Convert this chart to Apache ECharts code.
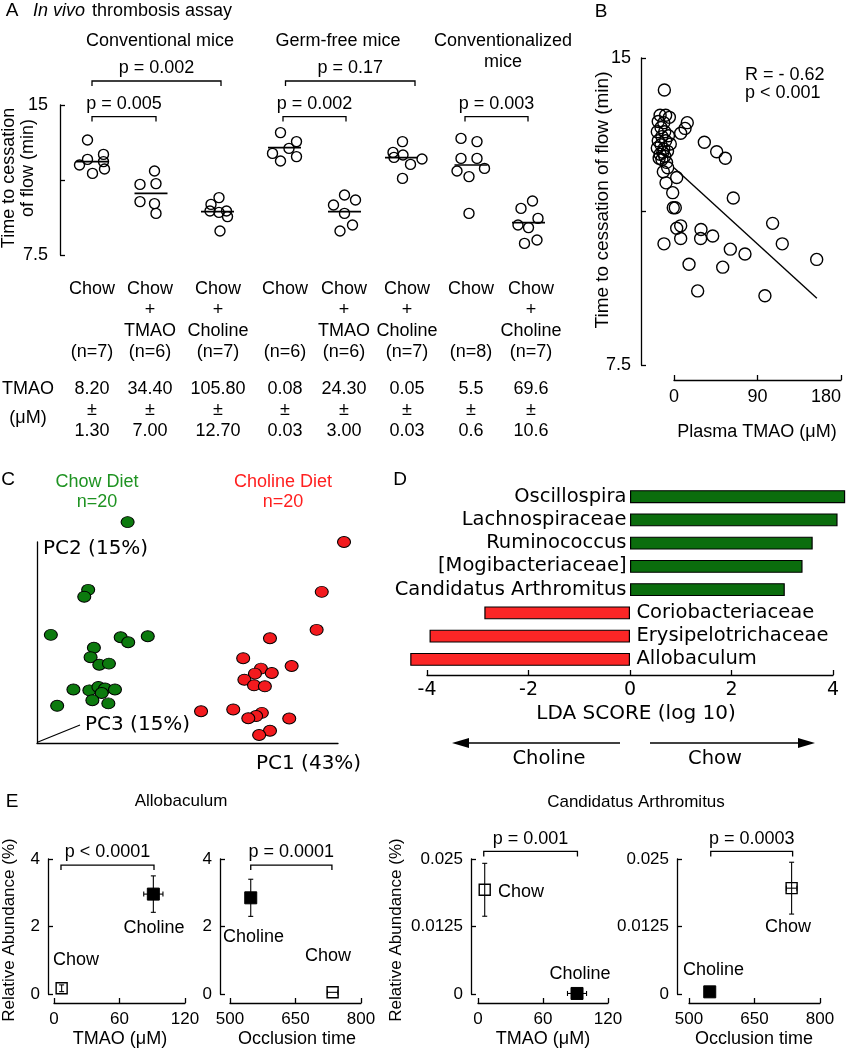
<!DOCTYPE html>
<html><head><meta charset="utf-8">
<script src="https://cdn.jsdelivr.net/npm/echarts@6/dist/echarts.min.js"></script>
<style>html,body{margin:0;padding:0;background:#fff}#c{width:847px;height:1050px}</style>
</head><body><div id="c"></div>
<script>
// ================= DATA =================
// Panel A - in vivo thrombosis assay
const mouseTypes = ['Conventional mice', 'Germ-free mice', 'Conventionalized', 'mice'];
const groupLabels = [['Chow'], ['Chow', '+', 'TMAO'], ['Chow', '+', 'Choline'], ['Chow'], ['Chow', '+', 'TMAO'], ['Chow', '+', 'Choline'], ['Chow'], ['Chow', '+', 'Choline']];
const groupN = ['(n=7)', '(n=6)', '(n=7)', '(n=6)', '(n=6)', '(n=7)', '(n=8)', '(n=7)'];
const tmaoMean = ['8.20', '34.40', '105.80', '0.08', '24.30', '0.05', '5.5', '69.6'];
const tmaoSD = ['1.30', '7.00', '12.70', '0.03', '3.00', '0.03', '0.6', '10.6'];
const groupPos = [0.65, 1.82, 3.15, 4.49, 5.69, 6.83, 8.22, 9.37];
const occTimes = [
  [13.25, 12.28, 12.53, 12.0, 12.17, 11.58, 11.8],
  [11.7, 11.03, 11.07, 10.17, 10.07, 9.58],
  [10.37, 10.03, 9.7, 9.63, 9.7, 9.42, 8.7],
  [13.62, 13.17, 12.83, 12.58, 12.42, 12.2],
  [10.5, 10.25, 10.0, 9.58, 9.0, 8.7],
  [13.17, 12.63, 12.5, 12.38, 12.3, 12.03, 11.33],
  [13.33, 13.17, 12.33, 12.33, 11.7, 11.83, 11.42, 9.58],
  [10.2, 9.83, 9.33, 9.0, 8.87, 8.25, 8.08]
];
const occJitter = [
  [-0.10, -0.10, 0.22, -0.26, 0.22, 0.0, 0.24],
  [0.07, -0.22, 0.10, -0.22, 0.07, 0.10],
  [0.03, -0.13, -0.15, 0.03, 0.18, 0.20, 0.05],
  [-0.08, 0.24, 0.09, -0.24, 0.24, -0.08],
  [0.0, 0.22, -0.22, 0.0, 0.16, -0.09],
  [0.02, -0.17, 0.03, -0.15, 0.41, 0.18, 0.02],
  [-0.20, 0.12, -0.20, 0.12, -0.28, 0.27, -0.04, -0.04],
  [0.08, -0.15, 0.19, -0.21, 0.0, 0.17, -0.08]
];
const occMedian = [12.17, 10.58, 9.67, 12.87, 9.67, 12.37, 12.0, 9.12];
const occBrackets = [[0.64, 1.92, 14.42], [0.64, 3.22, 16.2], [4.46, 5.72, 14.42], [4.51, 7.10, 16.2], [8.10, 9.36, 14.42]];
const occPvals = ['p = 0.005', 'p = 0.002', 'p = 0.002', 'p = 0.17', 'p = 0.003'];

// Panel B - correlation
const plasmaTMAO = [32.7, 46, 55.3, 63.9, 106.3, 116.7, 153.8, 98, 76.5, 60.7, 52.5, 25.5, 16.2, 41.7, 29.1, 28.7, 7.2, 2.9, 7.2, -10.8,
  -0.8, 1.4, -1.4, -8.6, 2.9, -6.8, -11.5, 7.2, 11.9, 14.3, -10.4,
  -15, -9, -5, -17, -11, -14, -18, -10, -13, -17, -9, -14, -18, -11, -7, -15, -10, -13, -6, -16, -12, -4, -8];
const cessationTime = [12.94, 12.71, 12.55, 11.58, 10.96, 10.46, 10.08, 9.19, 10.21, 10.33, 9.89, 9.31, 9.96, 10.65, 10.81, 10.59, 10.9, 10.84, 10.59, 10.46,
  11.34, 11.34, 11.71, 11.95, 12.08, 12.32, 12.22, 13.16, 13.28, 13.42, 14.22,
  13.6, 13.6, 13.55, 13.45, 13.42, 13.3, 13.2, 13.2, 13.08, 12.98, 12.98, 12.88, 12.8, 12.78, 12.72, 12.65, 12.6, 12.52, 13.1, 12.55, 12.7, 12.9, 12.45];
const fitLine = [[0, 12.32], [154, 9.13]];
const corrText = ['R = - 0.62', 'p < 0.001'];

// Panel C - PCoA
const pcaChow = [[30.1, 109.9], [17.0, 76.2], [15.7, 72.8], [4.6, 53.8], [27.8, 52.6], [30.3, 50.1], [36.8, 53.1], [18.9, 47.4], [17.8, 42.7], [20.7, 38.9],
  [23.9, 39.5], [12.1, 26.6], [17.4, 26.2], [20.4, 27.9], [22.6, 27.1], [25.9, 26.6], [21.5, 24.9], [18.4, 21.3], [23.7, 19.7], [6.7, 18.5]];
const pcaCholine = [[102.0, 100.0], [94.6, 75.2], [92.9, 56.3], [77.4, 52.1], [68.5, 42.2], [84.6, 38.3], [74.4, 37.0], [72.4, 34.5], [78.0, 34.8], [68.9, 31.5],
  [72.1, 28.7], [75.7, 28.2], [54.5, 15.8], [65.2, 16.7], [74.7, 15.0], [72.8, 13.4], [70.2, 12.3], [83.8, 12.2], [77.4, 6.1], [73.8, 4.0]];

// Panel D - LEfSe
const ldaTaxa = ['Oscillospira', 'Lachnospiraceae', 'Ruminococcus', '[Mogibacteriaceae]', 'Candidatus Arthromitus', 'Coriobacteriaceae', 'Erysipelotrichaceae', 'Allobaculum'];
const ldaScore = [4.24, 4.09, 3.6, 3.4, 3.05, -2.87, -3.95, -4.33];

// Panel E - [x, y, xErr, yErr] for Chow (open) and Choline (filled)
const alloTMAO = [[7.0, 0.17, 0, 0.1], [91, 2.96, 8.8, 0.54]];
const alloOcc = [[735, 0.05, 12, 0], [547.5, 2.85, 0, 0.55]];
const arthTMAO = [[6.2, 0.0193, 0, 0.0049], [91.4, 0.0001, 8.8, 0]];
const arthOcc = [[735, 0.0196, 12, 0.0048], [547.5, 0.0004, 0, 0]];
const eBrackets = [[[6.4, 91.6, 3.82]], [[547.5, 733.4, 3.82]], [[5.3, 91.8, 0.0264]], [[549.8, 737.3, 0.0264]]];
const ePvals = [['p < 0.0001'], ['p = 0.0001'], ['p = 0.001'], ['p = 0.0003']];

// ================= RENDER =================
const F = '"Liberation Sans", Arial, sans-serif';
const FD = '"DejaVu Sans", sans-serif';
const GREEN_T = '#1f9322', RED_T = '#ff1f1f';

function T(x, y, text, o) {
  o = o || {};
  return { type: 'text', x: x, y: y, rotation: o.rot || 0, z: 100, silent: true,
    style: { text: text, font: (o.style || 'normal') + ' ' + (o.size || 18) + 'px ' + (o.font || F), fill: o.color || '#000',
      align: o.align || 'center', textAlign: o.align || 'center', verticalAlign: 'middle', textVerticalAlign: 'middle' } };
}

function bracketSeries(gi, items, labels, font, lift) {
  return { type: 'custom', xAxisIndex: gi, yAxisIndex: gi, clip: false, silent: true, z: 5, data: items,
    renderItem: function (params, api) {
      const a = api.coord([api.value(0), api.value(2)]), b = api.coord([api.value(1), api.value(2)]);
      return { type: 'group', children: [
        { type: 'polyline', shape: { points: [[a[0], a[1] + 5], [a[0], a[1]], [b[0], b[1]], [b[0], b[1] + 5]] }, style: { stroke: '#000', lineWidth: 1.3, fill: 'none' } },
        { type: 'text', x: (a[0] + b[0]) / 2, y: a[1] - lift, style: { text: labels[params.dataIndex], font: font, fill: '#000', align: 'center', verticalAlign: 'middle' } }
      ] };
    } };
}

function seg(x1, y1, x2, y2) { return { type: 'line', shape: { x1: x1, y1: y1, x2: x2, y2: y2 }, style: { stroke: '#000', lineWidth: 1.1 } }; }

function errSeries(gi, items) {
  return { type: 'custom', xAxisIndex: gi, yAxisIndex: gi, clip: false, silent: true, z: 6, data: items,
    renderItem: function (params, api) {
      const x = api.value(0), y = api.value(1), xe = api.value(2), ye = api.value(3), c = 2.5, ch = [];
      if (ye > 0) { const t = api.coord([x, y + ye]), b = api.coord([x, y - ye]);
        ch.push(seg(t[0], t[1], b[0], b[1]), seg(t[0] - c, t[1], t[0] + c, t[1]), seg(b[0] - c, b[1], b[0] + c, b[1])); }
      if (xe > 0) { const l = api.coord([x - xe, y]), r = api.coord([x + xe, y]);
        ch.push(seg(l[0], l[1], r[0], r[1]), seg(l[0], l[1] - c, l[0], l[1] + c), seg(r[0], r[1] - c, r[0], r[1] + c)); }
      return { type: 'group', children: ch };
    } };
}

function squareSeries(gi, items) {
  return { type: 'scatter', xAxisIndex: gi, yAxisIndex: gi, clip: false, z: 4,
    data: [
      { value: [items[0][0], items[0][1]], symbol: 'rect', symbolSize: 11, itemStyle: { color: '#fff', borderColor: '#000', borderWidth: 1.4, opacity: 1 } },
      { value: [items[1][0], items[1][1]], symbol: 'rect', symbolSize: 12, itemStyle: { color: '#000', borderColor: '#000', borderWidth: 1, opacity: 1 } }
    ] };
}

const axLine = { show: true, onZero: false, lineStyle: { color: '#000', width: 1.3 } };
function valAxis(gi, o) {
  return Object.assign({ type: 'value', gridIndex: gi, axisLine: axLine, splitLine: { show: false },
    axisTick: { show: true, inside: true, length: 5, lineStyle: { color: '#000', width: 1.3 } },
    axisLabel: { color: '#000', fontSize: 17, fontFamily: F, margin: 8 } }, o);
}

const grids = [
  { left: 60, top: 105, width: 500, height: 150 },     // A
  { left: 674, top: 58, width: 167, height: 307 },     // B
  { left: 37, top: 542, width: 301, height: 201 },     // C
  { left: 427, top: 485, width: 406, height: 186 },    // D
  { left: 54, top: 859, width: 131, height: 135 },     // E1
  { left: 230, top: 859, width: 131, height: 135 },    // E2
  { left: 478, top: 859, width: 130, height: 135 },    // E3
  { left: 689, top: 859, width: 131, height: 135 }     // E4
].map(g => Object.assign({ outerBoundsMode: 'none', containLabel: false }, g));

const endLabels = v => (v === 15 || v === 7.5) ? String(v) : '';
const xAxes = [
  { type: 'value', gridIndex: 0, min: 0, max: 10, show: false },
  valAxis(1, { min: 0, max: 180, interval: 90, offset: 15, axisLabel: { color: '#000', fontSize: 18, fontFamily: F, margin: 8, alignMaxLabel: 'right' } }),
  { type: 'value', gridIndex: 2, min: 0, max: 100, axisLine: axLine, axisTick: { show: false }, axisLabel: { show: false }, splitLine: { show: false } },
  valAxis(3, { min: -4, max: 4, interval: 2, offset: 4, axisTick: { show: true, inside: true, length: 5, lineStyle: { color: '#000', width: 1.3 } },
    axisLabel: { color: '#000', fontSize: 19, fontFamily: FD, margin: 6 } }),
  valAxis(4, { min: 0, max: 120, interval: 60, offset: 9 }),
  valAxis(5, { min: 500, max: 800, offset: 9, axisTick: { show: true, inside: true, length: 5, customValues: [500, 650, 800], lineStyle: { color: '#000', width: 1.3 } },
    axisLabel: { color: '#000', fontSize: 17, fontFamily: F, margin: 8, customValues: [500, 650, 800] } }),
  valAxis(6, { min: 0, max: 120, interval: 60, offset: 9 }),
  valAxis(7, { min: 500, max: 800, offset: 9, axisTick: { show: true, inside: true, length: 5, customValues: [500, 650, 800], lineStyle: { color: '#000', width: 1.3 } },
    axisLabel: { color: '#000', fontSize: 17, fontFamily: F, margin: 8, customValues: [500, 650, 800] } })
];
const yAxes = [
  valAxis(0, { min: 7.5, max: 15, interval: 3.75, axisLabel: { color: '#000', fontSize: 18, fontFamily: F, margin: 12, formatter: endLabels } }),
  valAxis(1, { min: 7.5, max: 15, interval: 3.75, offset: 33, axisLabel: { color: '#000', fontSize: 18, fontFamily: F, margin: 10, formatter: endLabels } }),
  { type: 'value', gridIndex: 2, min: 0, max: 100, axisLine: axLine, axisTick: { show: false }, axisLabel: { show: false }, splitLine: { show: false } },
  { type: 'category', gridIndex: 3, data: ldaTaxa, inverse: true, show: false },
  valAxis(4, { min: 0, max: 4, interval: 2, offset: 6 }),
  valAxis(5, { min: 0, max: 4, interval: 2, offset: 10 }),
  valAxis(6, { min: 0, max: 0.025, interval: 0.0125, offset: 7 }),
  valAxis(7, { min: 0, max: 0.025, interval: 0.0125, offset: 12 })
];

// ---- series
const aDots = [];
occTimes.forEach((arr, g) => arr.forEach((v, i) => aDots.push([groupPos[g] + occJitter[g][i], v])));

const series = [
  { type: 'scatter', xAxisIndex: 0, yAxisIndex: 0, data: aDots, symbolSize: 10, z: 3,
    itemStyle: { color: 'rgba(0,0,0,0)', borderColor: '#000', borderWidth: 1.4, opacity: 1 } },
  { type: 'custom', xAxisIndex: 0, yAxisIndex: 0, z: 4, data: groupPos.map((p, i) => [p, occMedian[i]]),
    renderItem: function (params, api) {
      const a = api.coord([api.value(0) - 0.33, api.value(1)]), b = api.coord([api.value(0) + 0.33, api.value(1)]);
      return { type: 'line', shape: { x1: a[0], y1: a[1], x2: b[0], y2: b[1] }, style: { stroke: '#000', lineWidth: 1.6 } };
    } },
  bracketSeries(0, occBrackets, occPvals, '18px ' + F, 13),
  // B
  { type: 'scatter', xAxisIndex: 1, yAxisIndex: 1, clip: false, symbolSize: 12, z: 3,
    data: plasmaTMAO.map((x, i) => [x, cessationTime[i]]),
    itemStyle: { color: 'rgba(0,0,0,0)', borderColor: '#000', borderWidth: 1.4, opacity: 1 } },
  { type: 'line', xAxisIndex: 1, yAxisIndex: 1, data: fitLine, symbol: 'none', lineStyle: { color: '#000', width: 1.4 }, z: 4 },
  // C
  { type: 'scatter', xAxisIndex: 2, yAxisIndex: 2, clip: false, data: pcaChow, symbolSize: [13, 11],
    itemStyle: { color: '#0c7a0e', borderColor: '#000', borderWidth: 1, opacity: 1 } },
  { type: 'scatter', xAxisIndex: 2, yAxisIndex: 2, clip: false, data: pcaCholine, symbolSize: [13, 11],
    itemStyle: { color: '#f31a1e', borderColor: '#000', borderWidth: 1, opacity: 1 } },
  // D
  { type: 'bar', xAxisIndex: 3, yAxisIndex: 3, clip: false, barWidth: 13, data: ldaScore,
    itemStyle: { color: p => p.value > 0 ? '#0b6d0d' : '#fb2626', borderColor: '#000', borderWidth: 1.2 } },
  { type: 'scatter', xAxisIndex: 3, yAxisIndex: 3, clip: false, symbolSize: 1, silent: true,
    itemStyle: { color: 'rgba(0,0,0,0)', opacity: 1 },
    data: ldaTaxa.map((t, i) => ({ name: t, value: [0, t], label: { position: ldaScore[i] > 0 ? 'left' : 'right', distance: ldaScore[i] > 0 ? 3 : 6 } })),
    label: { show: true, formatter: '{b}', color: '#000', opacity: 1, fontSize: 19.5, fontFamily: FD } },
  // E
  squareSeries(4, alloTMAO), errSeries(4, alloTMAO), bracketSeries(4, eBrackets[0], ePvals[0], '18px ' + F, 13),
  squareSeries(5, alloOcc), errSeries(5, alloOcc), bracketSeries(5, eBrackets[1], ePvals[1], '18px ' + F, 13),
  squareSeries(6, arthTMAO), errSeries(6, arthTMAO), bracketSeries(6, eBrackets[2], ePvals[2], '18px ' + F, 12),
  squareSeries(7, arthOcc), errSeries(7, arthOcc), bracketSeries(7, eBrackets[3], ePvals[3], '18px ' + F, 12)
];

// ---- text / annotation graphics
const colX = [92, 150, 218, 285, 344, 407, 471, 531];
const g = [];
// Panel A
g.push(T(12, 11, 'A', { size: 19 }));
g.push(T(33, 11, 'In vivo', { style: 'italic', align: 'left' }));
g.push(T(92, 11, 'thrombosis assay', { align: 'left' }));
g.push(T(160, 41, mouseTypes[0]), T(338, 41, mouseTypes[1]), T(503, 41, mouseTypes[2]), T(503, 62, mouseTypes[3]));
g.push(T(9, 178, 'Time to cessation', { rot: Math.PI / 2 }), T(28, 168, 'of flow (min)', { rot: Math.PI / 2 }));
const rowY = [289, 310, 331];
groupLabels.forEach((lines, i) => {
  lines.forEach((s, r) => g.push(T(colX[i], rowY[r], s)));
  g.push(T(colX[i], 352, groupN[i]));
  g.push(T(colX[i], 389, tmaoMean[i]), T(colX[i], 410, '±'), T(colX[i], 431, tmaoSD[i]));
});
g.push(T(28, 389, 'TMAO'), T(28, 418, '(μM)'));
// Panel B
g.push(T(601, 12, 'B', { size: 19 }));
g.push(T(603, 200, 'Time to cessation of flow (min)', { rot: Math.PI / 2, size: 19 }));
g.push(T(745, 75, corrText[0], { align: 'left' }), T(745, 93, corrText[1], { align: 'left' }));
g.push(T(757, 432, 'Plasma TMAO (μM)'));
// Panel C
g.push(T(8, 480, 'C', { size: 19 }));
g.push(T(97, 482, 'Chow Diet', { color: GREEN_T }), T(97, 502, 'n=20', { color: GREEN_T }));
g.push(T(283, 482, 'Choline Diet', { color: RED_T }), T(283, 502, 'n=20', { color: RED_T }));
g.push(T(43, 549, 'PC2 (15%)', { align: 'left', font: FD, size: 20 }));
g.push(T(85, 725, 'PC3 (15%)', { align: 'left', font: FD, size: 20 }));
g.push(T(256, 764, 'PC1 (43%)', { align: 'left', font: FD, size: 20 }));
g.push({ type: 'line', shape: { x1: 38, y1: 742, x2: 80, y2: 725 }, style: { stroke: '#000', lineWidth: 1.2 }, silent: true });
// Panel D
g.push(T(400, 480, 'D', { size: 19 }));
g.push(T(636, 714, 'LDA SCORE (log 10)', { font: FD, size: 20 }));
g.push({ type: 'line', shape: { x1: 620, y1: 743, x2: 462, y2: 743 }, style: { stroke: '#000', lineWidth: 1.4 }, silent: true });
g.push({ type: 'polygon', shape: { points: [[452, 743], [469, 738], [469, 748]] }, style: { fill: '#000' }, silent: true });
g.push({ type: 'line', shape: { x1: 650, y1: 743, x2: 805, y2: 743 }, style: { stroke: '#000', lineWidth: 1.4 }, silent: true });
g.push({ type: 'polygon', shape: { points: [[815, 743], [798, 738], [798, 748]] }, style: { fill: '#000' }, silent: true });
g.push(T(549, 759, 'Choline', { font: FD, size: 19.5 }), T(715, 759, 'Chow', { font: FD, size: 19.5 }));
// Panel E
g.push(T(12, 802, 'E', { size: 19 }));
g.push(T(181, 801, 'Allobaculum', { size: 17 }), T(636, 802, 'Candidatus Arthromitus', { size: 17 }));
g.push(T(9, 930, 'Relative Abundance (%)', { rot: Math.PI / 2, size: 17 }), T(396, 930, 'Relative Abundance (%)', { rot: Math.PI / 2, size: 17 }));
g.push(T(120, 1039, 'TMAO (μM)'), T(297, 1039, 'Occlusion time'), T(543, 1039, 'TMAO (μM)'), T(754, 1039, 'Occlusion time'));
g.push(T(53, 960, 'Chow', { align: 'left' }), T(154, 928, 'Choline'));
g.push(T(223, 937, 'Choline', { align: 'left' }), T(328, 956, 'Chow'));
g.push(T(498, 892, 'Chow', { align: 'left' }), T(580, 974, 'Choline'));
g.push(T(788, 927, 'Chow'), T(683, 970, 'Choline', { align: 'left' }));

const chart = echarts.init(document.getElementById('c'));
chart.setOption({
  animation: false,
  backgroundColor: '#fff',
  textStyle: { fontFamily: F },
  grid: grids,
  xAxis: xAxes,
  yAxis: yAxes,
  series: series,
  graphic: { elements: g }
});
</script>
</body></html>
